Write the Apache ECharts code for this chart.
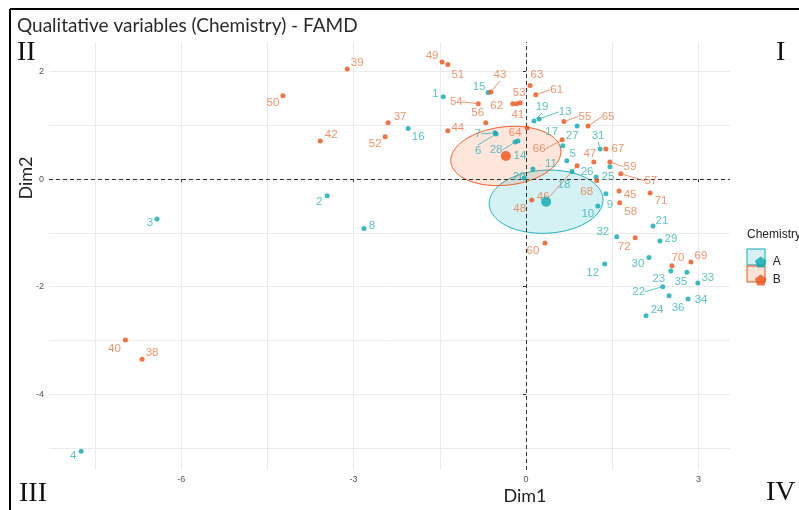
<!DOCTYPE html>
<html><head><meta charset="utf-8">
<script src="https://cdn.jsdelivr.net/npm/echarts@6/dist/echarts.min.js"></script>
<style>html,body{margin:0;padding:0;background:#fff}#c{width:799px;height:510px}</style>
</head><body><div id="c"></div>
<script>
// ---------------- data ----------------
const titleText = 'Qualitative variables (Chemistry) - FAMD';
const legendTitle = 'Chemistry';
const groupNames = ['A', 'B'];
const xAxisName = 'Dim1';
const yAxisName = 'Dim2';

const idsA  = [1,2,3,4,5,6,7,8,9,10,11,12,13,14,15,16,17,18,19,20,21,22,23,24,25,26,27,28,29,30,31,32,33,34,35,36];
const dim1A = [-1.44,-3.46,-6.42,-7.74,0.71,-0.52,-0.54,-2.82,1.39,1.25,0.12,1.37,0.23,-0.14,-0.66,-2.05,0.64,0.80,0.14,-0.03,2.21,2.38,2.52,2.09,1.46,1.22,0.89,-0.19,2.33,2.14,1.29,1.58,2.99,2.82,2.80,2.49];
const dim2A = [1.53,-0.31,-0.74,-5.06,0.34,0.84,0.86,-0.92,-0.27,-0.50,0.19,-1.58,1.12,0.71,1.61,0.94,0.62,0.14,1.08,0.02,-0.87,-2.00,-1.71,-2.54,0.23,0.04,0.99,0.69,-1.15,-1.46,0.56,-1.07,-1.93,-2.23,-1.73,-2.17];

const idsB  = [37,38,39,40,41,42,43,44,45,46,47,48,49,50,51,52,53,54,55,56,57,58,59,60,61,62,63,64,65,66,67,68,69,70,71,72];
const dim1B = [-2.40,-6.68,-3.11,-6.97,-0.16,-3.58,-0.61,-1.36,1.62,0.89,1.18,0.10,-1.46,-4.23,-1.36,-2.45,-0.10,-0.83,0.66,-0.70,1.65,1.63,1.46,0.33,0.17,-0.23,0.07,0.02,1.08,0.63,1.39,1.23,2.87,2.54,2.16,1.90];
const dim2B = [1.05,-3.35,2.05,-2.99,1.40,0.71,1.62,0.90,-0.22,0.25,0.32,-0.39,2.18,1.55,2.13,0.79,1.42,1.40,1.07,1.05,0.10,-0.44,0.32,-1.19,1.57,1.40,1.74,0.95,0.99,0.73,0.56,-0.03,-1.54,-1.61,-0.26,-1.09];

const centroidDim1 = [0.35, -0.35];
const centroidDim2 = [-0.42, 0.43];
// confidence ellipses: semi-axis vectors in data units [u1, u2, v1, v2]
const ellipseAxes = [[0.99, 0.056, 0.035, -0.586], [0.957, 0.112, 0.052, -0.54]];

const xTicks = [-6, -3, 0, 3];
const yTicks = [-4, -2, 0, 2];
const xMinor = [-7.5, -4.5, -1.5, 1.5];
const yMinor = [-5, -3, -1, 1];
const quadrantNames = ['I', 'II', 'III', 'IV'];

// ---------------- layout (label placement, px) ----------------
const labelShift = {
  1:[-8,-3],2:[-8,6],3:[-7,4],4:[-8,5],5:[6,-7],6:[-18,17],7:[-17,1],8:[8,-3],9:[4,11],10:[-10,8],
  11:[18,-5],12:[-12,9],13:[26,-7],14:[2,15],15:[-9,-6],16:[10,8],17:[-11,-14],18:[-8,13],19:[8,-14],20:[-5,-1],
  21:[9,-5],22:[-24,5],23:[-12,8],24:[11,-6],25:[-2,10],26:[-9,-5],27:[-5,10],28:[-19,8],29:[11,-2],30:[-11,6],
  31:[-2,-13],32:[-14,-5],33:[10,-5],34:[13,1],35:[-6,10],36:[9,12],
  37:[12,-6],38:[10,-6],39:[10,-6],40:[-11,9],41:[1,11],42:[11,-6],43:[9,-17],44:[10,-3],45:[11,4],46:[-34,31],
  47:[-4,-8],48:[-12,9],49:[-10,-6],50:[-10,7],51:[10,10],52:[-10,7],53:[-1,-10],54:[-22,-2],55:[21,-5],56:[-8,-10],
  57:[30,7],58:[11,9],59:[20,5],60:[-12,8],61:[21,-5],62:[-16,2],63:[7,-11],64:[-12,5],65:[20,-9],66:[-23,9],
  67:[12,0],68:[-10,11],69:[10,-6],70:[6,-8],71:[11,8],72:[-11,9]
};
const withLeader = [6,7,13,19,22,28,31,43,46,54,55,57,59,61,65,66];

const colA = '#0AA9B3', colB = '#EE5014';
const txtA = '#35b2ba', txtB = '#e9794a';

function pts(ids, xs, ys) {
  return ids.map((id, i) => ({
    value: [xs[i], ys[i]], name: String(id),
    labelLine: { show: withLeader.indexOf(id) >= 0 }
  }));
}

const chart = echarts.init(document.getElementById('c'), null, { renderer: 'canvas' });

const gridLineData = []
  .concat(xTicks.concat(xMinor).map(v => ({ xAxis: v })))
  .concat(yTicks.concat(yMinor).map(v => ({ yAxis: v })));

function ellipseRender(params, api) {
  const i = params.dataIndex;
  const cx = api.value(0), cy = api.value(1);
  const e = ellipseAxes[i];
  const points = [];
  for (let k = 0; k <= 96; k++) {
    const t = k / 96 * Math.PI * 2;
    points.push(api.coord([cx + e[0] * Math.cos(t) + e[2] * Math.sin(t),
                           cy + e[1] * Math.cos(t) + e[3] * Math.sin(t)]));
  }
  const c = i === 0 ? colA : colB;
  return {
    type: 'polygon', shape: { points: points },
    style: { fill: i === 0 ? 'rgba(0,175,187,0.17)' : 'rgba(252,78,7,0.14)', stroke: c, lineWidth: 0.9, opacity: 1 }
  };
}

const labelFont = { fontFamily: 'Liberation Sans', fontSize: 11.5 };

const option = {
  animation: false,
  backgroundColor: '#fff',
  title: { text: titleText, left: 12, top: 11,
    textStyle: { fontFamily: 'Lato', fontSize: 19, fontWeight: 'normal', color: '#2a2a2a' } },
  grid: { left: 49, top: 42, width: 681, height: 428, containLabel: false },
  xAxis: { type: 'value', min: -8.3, max: 3.55,
    axisLine: { show: false }, splitLine: { show: false },
    axisTick: { show: true, length: 3, customValues: xTicks, lineStyle: { color: '#333' } },
    axisLabel: { customValues: xTicks, margin: 5, fontSize: 9, color: '#555', fontFamily: 'Liberation Sans' } },
  yAxis: { type: 'value', min: -5.41, max: 2.55,
    axisLine: { show: false }, splitLine: { show: false },
    axisTick: { show: true, length: 3, customValues: yTicks, lineStyle: { color: '#333' } },
    axisLabel: { customValues: yTicks, margin: 5, fontSize: 9, color: '#555', fontFamily: 'Liberation Sans' } },
  legend: { data: groupNames, orient: 'vertical', left: 750, top: 251, itemWidth: 12, itemHeight: 11, itemGap: 6,
    icon: 'path://M0,-1 L0.95,-0.31 L0.59,0.81 L-0.59,0.81 L-0.95,-0.31 Z',
    textStyle: { fontSize: 12, color: '#222', fontFamily: 'Liberation Sans', padding: [0, 0, 0, 1] }, selectedMode: false, z: 10 },
  graphic: [
    { type: 'line', shape: { x1: 10, y1: 9, x2: 799, y2: 9 }, style: { stroke: '#000', lineWidth: 2 }, z: 20 },
    { type: 'line', shape: { x1: 10, y1: 9, x2: 10, y2: 510 }, style: { stroke: '#000', lineWidth: 2 }, z: 20 },
    { type: 'text', x: 776, y: 53, style: { text: quadrantNames[0], font: '28px "Liberation Serif"', fill: '#111', textAlign: 'left', textVerticalAlign: 'middle' } },
    { type: 'text', x: 17, y: 53, style: { text: quadrantNames[1], font: '28px "Liberation Serif"', fill: '#111', textAlign: 'left', textVerticalAlign: 'middle' } },
    { type: 'text', x: 19, y: 494, style: { text: quadrantNames[2], font: '28px "Liberation Serif"', fill: '#111', textAlign: 'left', textVerticalAlign: 'middle' } },
    { type: 'text', x: 766, y: 493, style: { text: quadrantNames[3], font: '28px "Liberation Serif"', fill: '#111', textAlign: 'left', textVerticalAlign: 'middle' } },
    { type: 'text', x: 525, y: 496, style: { text: xAxisName, font: '18px Lato', fill: '#222', textAlign: 'center', textVerticalAlign: 'middle' } },
    { type: 'text', x: 26, y: 178, rotation: Math.PI / 2, style: { text: yAxisName, font: '18px Lato', fill: '#222', textAlign: 'center', textVerticalAlign: 'middle' } },
    { type: 'text', x: 747, y: 235, style: { text: legendTitle, font: '12px "Liberation Sans"', fill: '#222', textAlign: 'left', textVerticalAlign: 'middle' } },
    { type: 'rect', shape: { x: 747, y: 249, width: 18, height: 16 }, style: { fill: '#d6f1f3', stroke: colA, lineWidth: 1 }, z: 5 },
    { type: 'rect', shape: { x: 747, y: 266, width: 18, height: 16 }, style: { fill: '#fde2d5', stroke: colB, lineWidth: 1 }, z: 5 }
  ],
  series: [
    { type: 'scatter', name: 'grid', data: [], silent: true, z: 0,
      markLine: { silent: true, z: 0, symbol: ['none', 'none'], label: { show: false }, animation: false,
        lineStyle: { color: '#ebebeb', width: 1, type: 'solid' }, data: gridLineData } },
    { type: 'custom', name: 'ellipses', z: 1, silent: true,
      data: centroidDim1.map((x, i) => [x, centroidDim2[i]]), renderItem: ellipseRender },
    { type: 'scatter', name: 'zero', data: [], silent: true, z: 2,
      markLine: { silent: true, z: 2, symbol: ['none', 'none'], label: { show: false }, animation: false,
        lineStyle: { color: '#333', width: 1, type: [4, 3] }, data: [{ xAxis: 0 }, { yAxis: 0 }] } },
    { type: 'scatter', name: groupNames[0], z: 3, symbolSize: 5, itemStyle: { color: colA },
      data: pts(idsA, dim1A, dim2A),
      label: Object.assign({ show: true, position: 'inside', formatter: '{b}', color: txtA }, labelFont),
      labelLine: { show: false, lineStyle: { color: txtA, width: 0.8 } },
      labelLayout: p => { const s = labelShift[idsA[p.dataIndex]]; return { dx: s[0], dy: s[1] }; } },
    { type: 'scatter', name: groupNames[1], z: 3, symbolSize: 5, itemStyle: { color: colB },
      data: pts(idsB, dim1B, dim2B),
      label: Object.assign({ show: true, position: 'inside', formatter: '{b}', color: txtB }, labelFont),
      labelLine: { show: false, lineStyle: { color: txtB, width: 0.8 } },
      labelLayout: p => { const s = labelShift[idsB[p.dataIndex]]; return { dx: s[0], dy: s[1] }; } },
    { type: 'scatter', name: 'centroids', z: 4, symbolSize: 10,
      data: centroidDim1.map((x, i) => ({ value: [x, centroidDim2[i]], itemStyle: { color: i === 0 ? colA : colB } })) }
  ]
};
chart.setOption(option);
</script></body></html>
